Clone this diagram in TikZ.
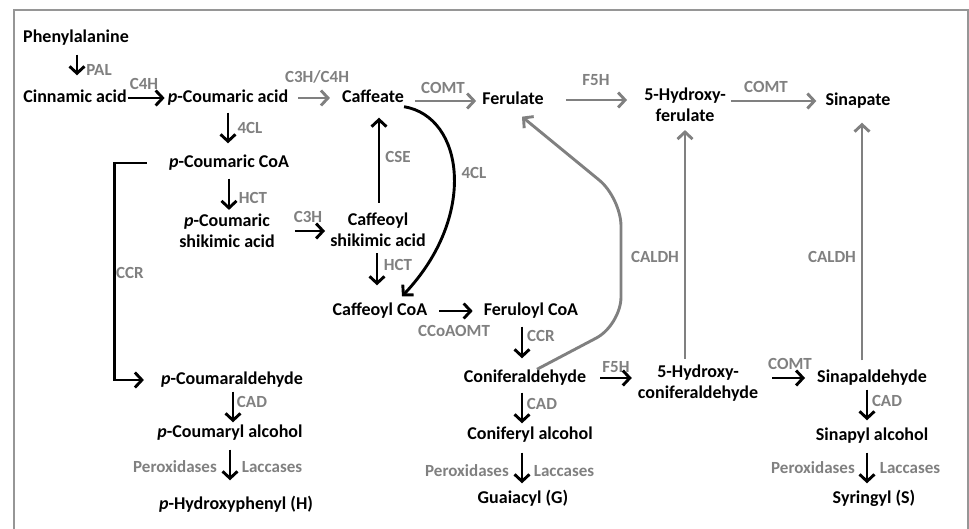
\documentclass[tikz,border=0pt]{standalone}
\usepackage{fontspec}
\setmainfont{Carlito}
\usetikzlibrary{arrows.meta}
\usetikzlibrary{calc}
\definecolor{enzgray}{RGB}{128,128,128}
\definecolor{framegray}{RGB}{150,150,150}

\begin{document}
\begin{tikzpicture}[x=1pt,y=-1pt,
  cmpd/.style={font=\fontsize{18}{21}\selectfont\bfseries, inner sep=0pt, text height=13pt, text depth=4pt},
  cmpdtwo/.style={font=\fontsize{18}{21}\selectfont\bfseries, inner sep=0pt, align=center},
  enz/.style={font=\fontsize{17}{20}\selectfont\bfseries, text=enzgray, inner sep=0pt},
  rxn/.style={line width=2.9pt, -{Straight Barb[length=7pt,width=15pt]}},
  grxn/.style={rxn, draw=enzgray}]
  \useasboundingbox (0,0) rectangle (969,529);
  % frame, open at the bottom
  \draw[framegray, line width=2.2pt] (14,529) -- (14,10) -- (968,10) -- (968,529);

  % compounds
  \node[cmpd] (phe) at (76,38) {Phenylalanine};
  \node[cmpd] (cin) at (75,98) {Cinnamic acid};
  \node[cmpd] (pca) at (228,98) {\textit{p}-Coumaric acid};
  \node[cmpd] (caf) at (373,98) {Caffeate};
  \node[cmpd] (fer) at (513,100) {Ferulate};
  \node[cmpdtwo] (hfer) at (685,105) {5-Hydroxy-\\ferulate};
  \node[cmpd] (sin) at (858,101) {Sinapate};
  \node[cmpd] (pcoa) at (229,163) {\textit{p}-Coumaric CoA};
  \node[cmpdtwo] (pcs) at (227,231) {\textit{p}-Coumaric\\shikimic acid};
  \node[cmpdtwo] (cafs) at (378,230) {Caffeoyl\\shikimic acid};
  \node[cmpd] (cafcoa) at (380,311) {Caffeoyl CoA};
  \node[cmpd] (fercoa) at (531,311) {Feruloyl CoA};
  \node[cmpd] (pcald) at (232,380) {\textit{p}-Coumaraldehyde};
  \node[cmpd] (conald) at (525,378) {Coniferaldehyde};
  \node[cmpdtwo] (hconald) at (698,383) {5-Hydroxy-\\coniferaldehyde};
  \node[cmpd] (sinald) at (872,378) {Sinapaldehyde};
  \node[cmpd] (pcalc) at (230,433) {\textit{p}-Coumaryl alcohol};
  \node[cmpd] (conalc) at (530,435) {Coniferyl alcohol};
  \node[cmpd] (sinalc) at (872,436) {Sinapyl alcohol};
  \node[cmpd] (hunit) at (236,505) {\textit{p}-Hydroxyphenyl (H)};
  \node[cmpd] (gunit) at (523,499) {Guaiacyl (G)};
  \node[cmpd] (sunit) at (874,499) {Syringyl (S)};

  % enzymes
  \node[enz] (lpal) at (99,70) {PAL};
  \node[enz] (lcfh) at (144,84) {C4H};
  \node[enz] (lcthcfh) at (317,77) {C3H/C4H};
  \node[enz] (lfcla) at (250,128) {4CL};
  \node[enz] (lcomta) at (443,88) {COMT};
  \node[enz] (lffha) at (596,80) {F5H};
  \node[enz] (lcomtb) at (766,87) {COMT};
  \node[enz] (lhcta) at (253,198) {HCT};
  \node[enz] (lcth) at (308,217) {C3H};
  \node[enz] (lcse) at (398,157) {CSE};
  \node[enz] (lfclb) at (474,173) {4CL};
  \node[enz] (lhctb) at (398,265) {HCT};
  \node[enz] (lccra) at (130,273) {CCR};
  \node[enz] (lccoaomt) at (454,331) {CCoAOMT};
  \node[enz] (lccrb) at (541,336) {CCR};
  \node[enz] (lcaldha) at (655,257) {CALDH};
  \node[enz] (lcaldhb) at (832,257) {CALDH};
  \node[enz] (lffhb) at (616,367) {F5H};
  \node[enz] (lcomtc) at (790,364) {COMT};
  \node[enz] (lcada) at (252,402) {CAD};
  \node[enz] (lcadb) at (542,404) {CAD};
  \node[enz] (lcadc) at (887,401) {CAD};
  \node[enz] (lpoxa) at (175,467) {Peroxidases};
  \node[enz] (llaca) at (272,467) {Laccases};
  \node[enz] (lpoxb) at (467,471) {Peroxidases};
  \node[enz] (llacb) at (564,471) {Laccases};
  \node[enz] (lpoxc) at (813,468) {Peroxidases};
  \node[enz] (llacc) at (910,468) {Laccases};

  % black steps
  \draw[rxn, shorten <=8pt, shorten >=14pt] ([xshift=1pt]phe.south) -- ([xshift=1pt]phe.south |- cin.north);
  \draw[rxn, shorten <=1pt, shorten >=3pt] (cin.east) -- (pca.west);
  \draw[rxn, shorten <=6pt, shorten >=11pt] (pca.south) -- (pca.south |- pcoa.north);
  \draw[rxn, shorten <=7pt, shorten >=4pt] (pcoa.south) -- (pcoa.south |- pcs.north);
  \draw[rxn, shorten <=20pt, shorten >=5pt] (pcs.east) -- (pcs.east -| cafs.west);
  \draw[rxn, shorten <=10pt, shorten >=11pt] ([xshift=1pt]cafs.north) -- ([xshift=1pt]cafs.north |- caf.south);
  \draw[rxn, shorten <=6pt, shorten >=17pt] ([xshift=-1pt]cafs.south) -- ([xshift=-1pt]cafs.south |- cafcoa.north);
  \draw[rxn] (caf.south east) .. controls +(60,10) and +(76,-80) .. ([xshift=22pt,yshift=6pt]cafcoa.north);
  \draw[rxn, shorten <=12pt, shorten >=11pt] (cafcoa.east) -- (fercoa.west);
  \draw[rxn, shorten <=7pt, shorten >=11pt] ([xshift=-3pt]conald.north |- fercoa.south) -- ([xshift=-3pt]conald.north);
  \draw[rxn, shorten <=6pt, shorten >=3pt] ([xshift=-3pt]conald.south) -- ([xshift=-3pt]conald.south |- conalc.north);
  \draw[rxn, shorten <=9pt, shorten >=7pt] ([xshift=-8pt]conalc.south) -- ([xshift=-8pt]conalc.south |- gunit.north);
  \draw[rxn, shorten <=14pt, shorten >=6pt] (conald.east) -- (conald.east -| hconald.west);
  \draw[rxn, shorten <=14pt, shorten >=12pt] (hconald.east |- sinald.west) -- (sinald.west);
  \draw[rxn, shorten <=3pt, shorten >=7pt] ([xshift=-5pt]sinald.south) -- ([xshift=-5pt]sinald.south |- sinalc.north);
  \draw[rxn, shorten <=8pt, shorten >=7pt] ([xshift=-5pt]sinalc.south) -- ([xshift=-5pt]sinalc.south |- sunit.north);
  \draw[rxn, shorten <=3pt, shorten >=2pt] ([xshift=1pt]pcald.south) -- ([xshift=1pt]pcald.south |- pcalc.north);
  \draw[rxn, shorten <=8pt, shorten >=16pt] (pcalc.south) -- (pcalc.south |- hunit.north);
  \draw[rxn, shorten <=22pt, shorten >=17pt] (pcoa.west) -- ++(-54,0) |- (pcald.west);

  % grey steps
  \draw[grxn, shorten <=10pt, shorten >=12pt] (pca.east) -- (pca.east -| caf.west);
  \draw[grxn, shorten <=11pt, shorten >=6pt] ([yshift=-3pt]caf.east) -- ([yshift=-3pt]caf.east -| fer.west);
  \draw[grxn, shorten <=22pt, shorten >=17pt] (fer.east) -- (fer.east -| hfer.west);
  \draw[grxn, shorten <=5pt, shorten >=9pt] (hfer.east |- sin.west) -- (sin.west);
  \draw[grxn, shorten <=6pt, shorten >=8pt] (hfer.south |- hconald.north) -- (hfer.south);
  \draw[grxn, shorten <=9pt, shorten >=13pt] ([xshift=4pt]sin.south |- sinald.north) -- ([xshift=4pt]sin.south);
  \coordinate (bendlow) at (621,325);
  \coordinate (bendhigh) at (621,198);
  \draw[grxn, rounded corners=28pt] ([xshift=12pt]conald.north) -- (bendlow) -- (bendhigh) -- ([xshift=9pt,yshift=-8pt]fer.south);
\end{tikzpicture}
\end{document}
